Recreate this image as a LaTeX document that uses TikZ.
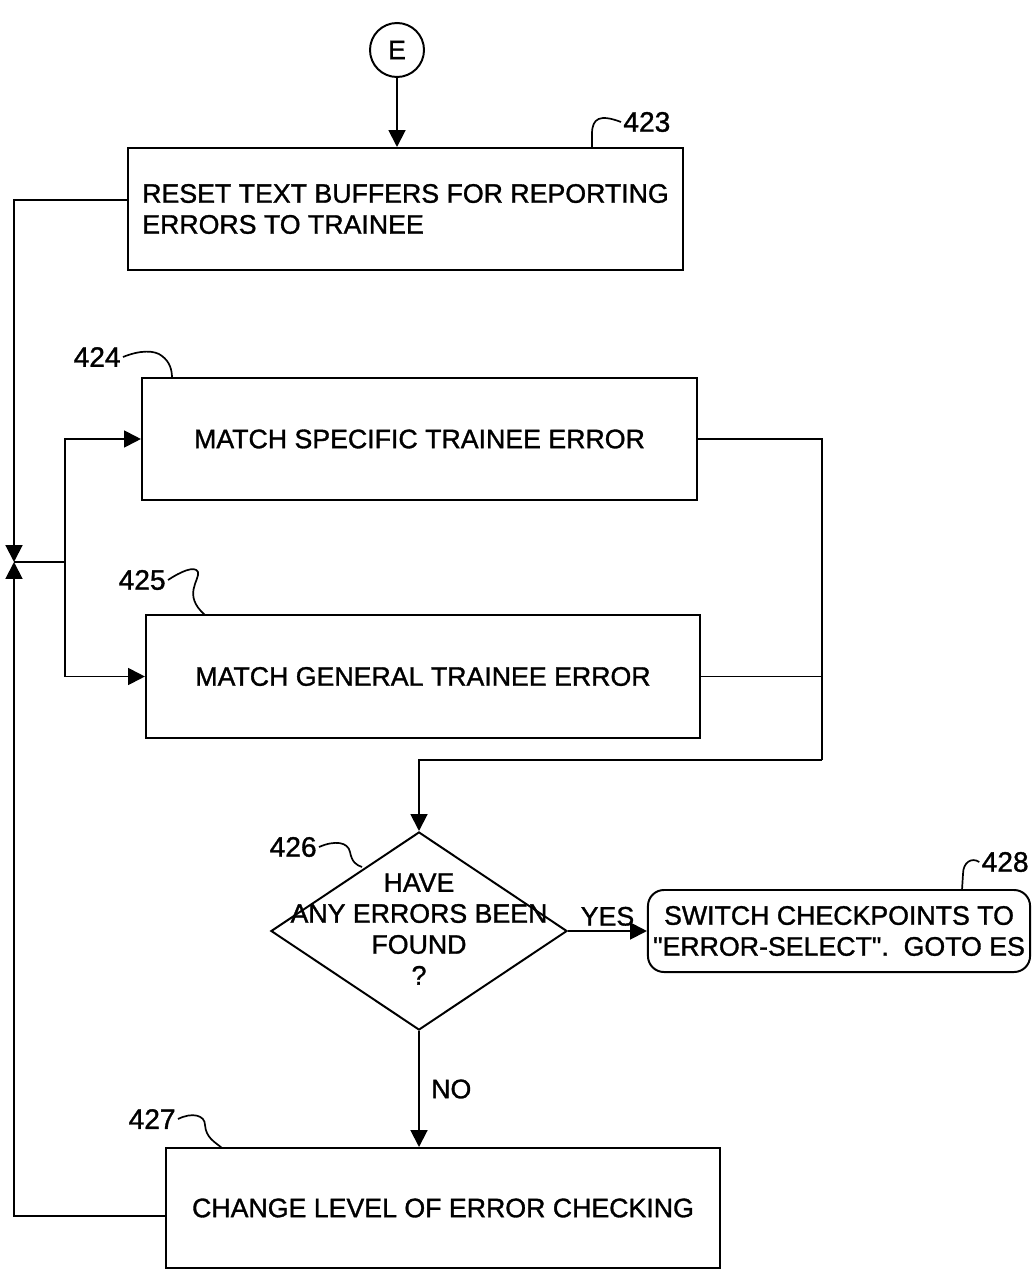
\documentclass[tikz,border=0pt]{standalone}
\usepackage{fontspec}
\setmainfont{Liberation Sans}[Ligatures=TeXOff,FakeBold=1.2]
\usetikzlibrary{arrows.meta,shapes.geometric}

\begin{document}
\begin{tikzpicture}[x=0.025cm,y=-0.025cm,line width=1.4pt,
    font=\fontsize{19}{22}\selectfont,
    box/.style={draw,minimum width=13.875cm,minimum height=3.05cm,inner sep=0pt,align=center},
    flow/.style={-{Triangle[length=0.42cm,width=0.42cm]}},
    refnum/.style={font=\fontsize{20}{22}\selectfont,inner sep=1pt},
    lead/.style={line width=1.2pt}]
  \useasboundingbox (0,0) rectangle (1032,1273);

  % entry connector and boxes
  \node[draw,circle,minimum size=1.35cm,inner sep=0pt] (E) at (397,50) {E};
  \node[box,align=left]
    (b423) at (405.5,209) {RESET TEXT BUFFERS FOR REPORTING\\ERRORS TO TRAINEE};
  \node[box] (b424) at (419.5,439) {MATCH SPECIFIC TRAINEE ERROR};
  \node[box,minimum width=13.85cm,minimum height=3.075cm]
    (b425) at (423,676.5) {MATCH GENERAL TRAINEE ERROR};
  \node[draw,diamond,minimum width=7.4cm,minimum height=4.95cm,inner sep=0pt]
    (d426) at (419,931) {};
  \node[align=center,inner sep=0pt] (q426) at (419,929) {HAVE\\ANY ERRORS BEEN\\FOUND\\?};
  \node[draw,rounded corners=0.4cm,minimum width=9.55cm,minimum height=2.05cm,
        inner sep=0pt,align=center]
    (b428) at (839,931) {SWITCH CHECKPOINTS TO\\"ERROR-SELECT".\ \ GOTO ES};
  \node[box,minimum width=13.85cm,minimum height=3.0cm]
    (b427) at (443,1208) {CHANGE LEVEL OF ERROR CHECKING};

  % reference numerals
  \node[refnum,anchor=west] (l423) at (621,122) {423};
  \node[refnum,anchor=east] (l424) at (123,357) {424};
  \node[refnum,anchor=east] (l425) at (168,580) {425};
  \node[refnum,anchor=east] (l426) at (319,847) {426};
  \node[refnum,anchor=east] (l427) at (178,1119) {427};
  \node[refnum,anchor=east] (l428) at (1031,862) {428};

  \coordinate (t423) at (592,148);
  \coordinate (t424) at (172,378);
  \coordinate (t425) at (205,615);
  \coordinate (t426) at (362,867);
  \coordinate (t427) at (222,1148);
  \coordinate (t428) at (962,890);
  \draw[lead] (l423.west) .. controls (600,114) and (592,118) .. (592,134) -- (t423);
  \draw[lead] (l424.east) .. controls (140,350) and (155,350) .. (162,356)
    .. controls (170,362) and (172,370) .. (t424);
  \draw[lead] (l425.east) .. controls (180,572) and (195,565) .. (198,572)
    .. controls (200,580) and (182,595) .. (t425);
  \draw[lead] (l426.east) .. controls (335,840) and (348,842) .. (350,852)
    .. controls (352,862) and (356,865) .. (t426);
  \draw[lead] (l427.east) .. controls (192,1112) and (205,1115) .. (205,1125)
    .. controls (206,1138) and (215,1142) .. (t427);
  \draw[lead] (l428.west) .. controls (972,857) and (963,862) .. (963,874) -- (t428);

  % junction on the left
  \coordinate (j) at (14,562);
  \coordinate (s) at (65,562);
  \coordinate (r) at (822,760);

  % connectors
  \draw[flow] (E) -- (E |- b423.north);
  \draw[flow] ([yshift=0.225cm]b423.west) -| (j);
  \draw[flow] ([yshift=-0.2cm]b427.west) -| (j);
  \draw (j) -- (s);
  \draw[flow] (s) |- (b424.west);
  \draw[flow] (s) |- (b425.west);
  \draw (b424.east) -| (r);
  \draw (b425.east) -- (b425.east -| r);
  \draw[flow] (r) -| (d426.north);
  \draw[flow] (d426.east) -- (b428.west)
    node[midway,above,inner sep=3pt] {YES};
  \draw[flow] (d426.south) -- (d426.south |- b427.north)
    node[midway,right,inner sep=8pt] {NO};
\end{tikzpicture}
\end{document}
